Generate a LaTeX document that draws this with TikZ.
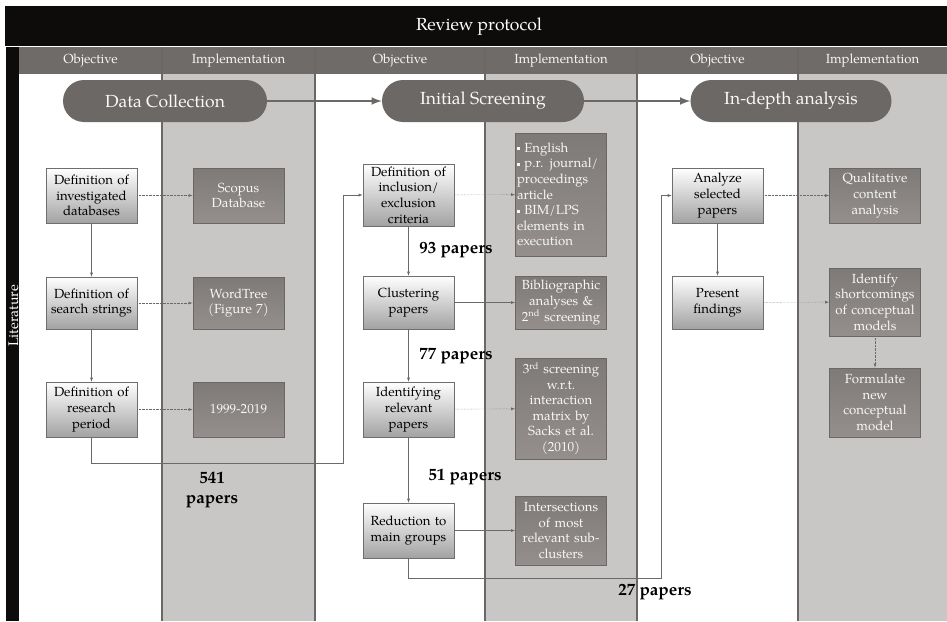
\documentclass[tikz,border=0pt]{standalone}
\usepackage{fontspec}
\setmainfont{TeX Gyre Pagella}
\usetikzlibrary{arrows}
\definecolor{headblack}{HTML}{0E0C0A}
\definecolor{headgray}{HTML}{6F6B69}
\definecolor{pillgray}{HTML}{6C6866}
\definecolor{implfill}{HTML}{C9C7C5}
\definecolor{colline}{HTML}{6A6766}
\definecolor{objframe}{HTML}{6E6E6E}
\definecolor{objdark}{HTML}{A2A2A2}
\definecolor{impltop}{HTML}{7E7A78}
\definecolor{implbot}{HTML}{948F8D}
\definecolor{arrowgray}{HTML}{6A6A6A}
\newcommand{\sqbul}{\raisebox{0.35ex}{\rule{3pt}{3pt}}}
\begin{document}
\begin{tikzpicture}[x=1pt,y=-1pt]
      \tikzstyle{objbox}=[draw=objframe, semithick, top color=white, bottom color=objdark, text=black, align=center, text width=88pt, inner xsep=1.5pt, inner ysep=1pt, font=\fontsize{13.2}{15.6}\selectfont]
      \tikzstyle{implbox}=[draw=colline, thick, top color=impltop, bottom color=implbot, text=white!94!gray, align=center, text width=88pt, inner xsep=1.5pt, inner ysep=1pt, font=\fontsize{13.2}{15.6}\selectfont]
      \tikzstyle{pill}=[fill=pillgray, text=white!95!gray, rounded corners=21pt, minimum height=42pt, font=\fontsize{17.5}{20}\selectfont]
      \tikzstyle{colhead}=[text=white!92!gray, font=\fontsize{13.2}{15}\selectfont]
      \tikzstyle{fleche}=[->,>=latex,draw=arrowgray]
      \tikzstyle{flechept}=[->,>=latex,draw=arrowgray,densely dotted]
      \tikzstyle{bigfleche}=[->,>=latex,line width=2.5pt,draw=pillgray]
      \tikzstyle{papers}=[text=black, font=\bfseries\fontsize{17}{20}\selectfont, align=center]

      \useasboundingbox (0,0) rectangle (947,621);
      \fill[white] (0,0) rectangle (947,621);

      % frame
      \fill[headblack] (5,6) rectangle (947,46);
      \node[text=white, font=\fontsize{17.5}{20}\selectfont] (title) at (479,27) {Review protocol};
      \fill[headblack] (6,47) rectangle (19,621);
      \node[rotate=90, text=white, font=\fontsize{14}{16}\selectfont] (lit) at (13.5,316) {Literature};
      \fill[headgray] (19,47) rectangle (947,74);
      \foreach \a/\b in {162/315, 485/637, 798/947}
        \fill[implfill] (\a,74) rectangle (\b,621);
      \foreach \x in {162,315,485,637,798}
        \draw[colline, line width=1.2pt] (\x,47) -- (\x,621);
      \foreach \x/\t [count=\i] in {90.5/Objective, 238.5/Implementation, 400/Objective, 561/Implementation, 717.5/Objective, 872.5/Implementation}
        \node[colhead] (head\i) at (\x,61) {\t};

      % phases
      \node[pill, minimum width=204pt] (Coll) at (165,101) {Data Collection};
      \node[pill, minimum width=202pt] (Scree) at (483,101) {Initial Screening};
      \node[pill, minimum width=201pt] (Anal) at (791,101) {In-depth analysis};
      \draw[bigfleche] (Coll)--(Scree);
      \draw[bigfleche] (Scree)--(Anal);

      % data collection
      \node[objbox, minimum height=55pt] (Inv) at (91.5,195.5) {Definition of\\investigated\\databases};
      \node[objbox, minimum height=52pt] (Str) at (91.5,303) {Definition of\\search strings};
      \node[objbox, minimum height=55pt] (Per) at (91.5,409.5) {Definition of\\research\\period};
      \node[implbox, minimum height=55pt] (Scop) at (238.5,195.5) {Scopus\\Database};
      \node[implbox, minimum height=52pt] (Tree) at (238.5,303) {WordTree\\(Figure 7)};
      \node[implbox, minimum height=55pt] (Years) at (238.5,409.5) {1999-2019};
      \draw[flechept] (Inv)--(Scop);
      \draw[flechept] (Str)--(Tree);
      \draw[flechept] (Per)--(Years);
      \draw[fleche] (Inv)--(Str);
      \draw[fleche] (Str)--(Per);

      % initial screening
      \node[objbox, minimum height=62pt] (Incl) at (408.5,195) {Definition of\\inclusion/\\exclusion\\criteria};
      \node[objbox, minimum height=53pt] (Clus) at (408.5,302.5) {Clustering\\papers};
      \node[objbox, minimum height=55pt] (Iden) at (408.5,409.5) {Identifying\\relevant\\papers};
      \node[objbox, minimum height=55pt] (Redu) at (408.5,530.5) {Reduction to\\main groups};
      \node[implbox, minimum height=123pt, align=left] (Crit) at (561,194.5) {\sqbul\ English\\\sqbul\ p.r. journal/\\proceedings\\article\\\sqbul\ BIM/LPS\\elements in\\execution};
      \node[implbox, minimum height=53pt] (Bib) at (561,302.5) {Bibliographic\\analyses \&\\2\textsuperscript{nd} screening};
      \node[implbox, minimum height=101pt] (Sacks) at (561,408.5) {3\textsuperscript{rd} screening\\w.r.t.\\interaction\\matrix by\\Sacks et al.\\(2010)};
      \node[implbox, minimum height=69pt] (Inter) at (561,530.5) {Intersections\\of most\\relevant sub-\\clusters};
      \draw[flechept] (Incl)--(Crit);
      \draw[fleche] (Clus)--(Bib);
      \draw[flechept] (Iden)--(Sacks);
      \draw[fleche] (Redu)--(Inter);
      \draw[fleche] (Incl)--(Clus);
      \draw[fleche] (Clus)--(Iden);
      \draw[fleche] (Iden)--(Redu);

      % in-depth analysis
      \node[objbox, minimum height=55pt] (Sel) at (717.5,195.5) {Analyze\\selected\\papers};
      \node[objbox, minimum height=53pt] (Pres) at (717.5,302.5) {Present\\findings};
      \node[implbox, minimum height=55pt] (Qual) at (875,195.5) {Qualitative\\content\\analysis};
      \node[implbox, minimum height=68pt] (Short) at (875,302) {Identify\\shortcomings\\of conceptual\\models};
      \node[implbox, minimum height=69pt] (Form) at (875,402.5) {Formulate\\new\\conceptual\\model};
      \draw[flechept] (Sel)--(Qual);
      \draw[flechept] (Pres)--(Short);
      \draw[fleche] (Sel)--(Pres);
      \draw[flechept] (Short)--(Form);

      % links between phases
      \coordinate (turnA) at (343,463);
      \coordinate (turnB) at (661,578);
      \draw[fleche] (Per) |- (turnA) |- (Incl);
      \draw[fleche] (Redu) |- (turnB) |- (Sel);

      % paper counts
      \node[papers] (n541) at (212,490) {541\\papers};
      \node[papers] (n93) at (456,250) {93 papers};
      \node[papers] (n77) at (456,356) {77 papers};
      \node[papers] (n51) at (465,477) {51 papers};
      \node[papers] (n27) at (655,592) {27 papers};
    \end{tikzpicture}
\end{document}
